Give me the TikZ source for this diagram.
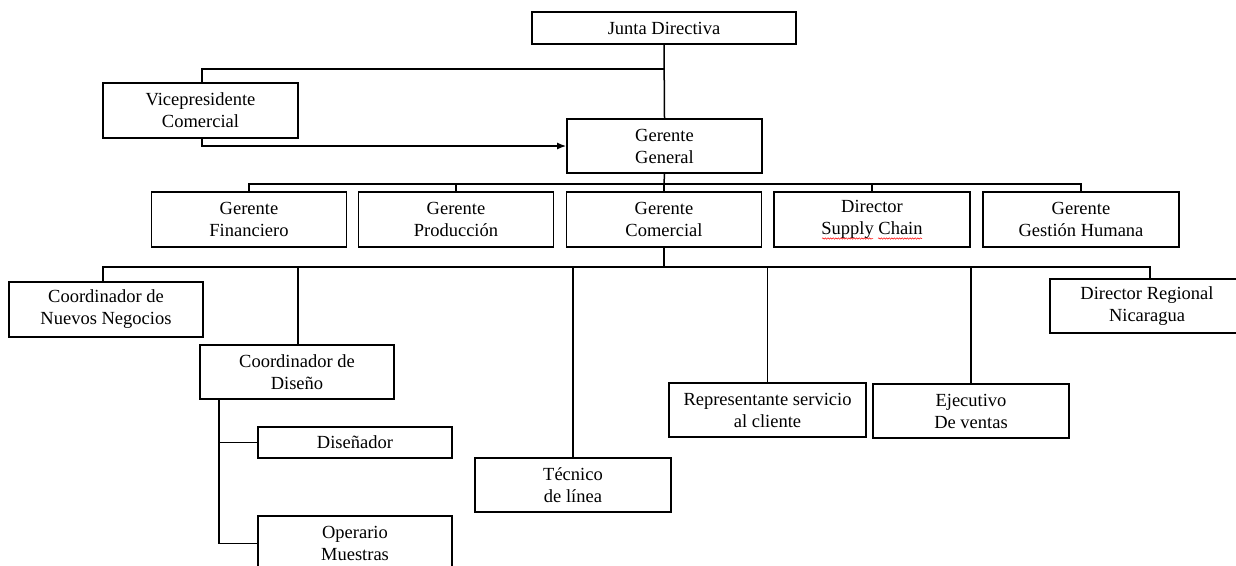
\documentclass[tikz,border=0pt]{standalone}
\usepackage{fontspec}
\setmainfont{Liberation Serif}
\usetikzlibrary{arrows.meta,decorations.pathmorphing}
\begin{document}
\begin{tikzpicture}[x=1pt,y=-1pt,
  box/.style={draw,line width=1.7pt,rectangle,inner sep=0pt,align=center,
    font=\fontsize{18.5}{22}\selectfont,minimum width=195pt,minimum height=55pt},
  conn/.style={line width=1.5pt},
  squiggle/.style={red,line width=0.5pt,decorate,decoration={snake,amplitude=0.7pt,segment length=2.6pt}}]
\useasboundingbox (0,0) rectangle (1236,565);
\clip (0,0) rectangle (1236,565);
\fill[white] (0,0) rectangle (1236,565);
% boxes
\node[box,minimum width=264pt,minimum height=32pt] (JD) at (664,28) {Junta Directiva};
\node[box] (VC) at (200.5,110.5) {Vicepresidente\\Comercial};
\node[box,minimum height=54pt] (GG) at (664.5,146) {Gerente\\General};
\node[box] (GF) at (249,219.5) {Gerente\\Financiero};
\node[box] (GP) at (456,219.5) {Gerente\\Producción};
\node[box] (GC) at (664,219.5) {Gerente\\Comercial};
\node[box,minimum width=196pt] (DS) at (872,219.5) {Director\\Supply Chain};
\node[box,minimum width=196pt] (GH) at (1081,219.5) {Gerente\\Gestión Humana};
\node[box,minimum width=194pt] (CN) at (106,309.5) {Coordinador de\\Nuevos Negocios};
\node[box,minimum width=194pt,minimum height=54pt] (CD) at (297,372) {Coordinador de\\Diseño};
\node[box,minimum width=194pt,minimum height=31pt] (DI) at (355,442.5) {Diseñador};
\node[box,minimum width=194pt] (OM) at (355,543.5) {Operario\\Muestras};
\node[box,minimum width=196pt,minimum height=54pt] (TL) at (573,485) {Técnico\\de línea};
\node[box,minimum width=197pt,minimum height=54pt] (RS) at (767.5,410) {Representante servicio\\al cliente};
\node[box,minimum width=196pt,minimum height=54pt] (EV) at (971,411) {Ejecutivo\\De ventas};
\node[box,minimum width=194pt,minimum height=54pt] (DR) at (1147,306) {Director Regional\\Nicaragua};
% bus coordinates
\coordinate (j1) at (664,69);
\coordinate (b1) at (664,184);
\coordinate (b2) at (664,267);
% top
\draw[conn] (JD.south) -- (GG.north);
\draw[conn] (j1) -| ([xshift=1.5pt]VC.north);
\draw[conn,-{Latex[length=9pt,width=7pt]}] ([xshift=1.5pt]VC.south) |- (GG.west);
% level 2
\draw[conn] (GG.south) -- (b1);
\draw[conn] (GF.north) -- (GF.north |- b1) -- (GH.north |- b1) -- (GH.north);
\draw[conn] (GP.north) -- (GP.north |- b1);
\draw[conn] (GC.north) -- (GC.north |- b1);
\draw[conn] (DS.north) -- (DS.north |- b1);
% level 3
\draw[conn] (GC.south) -- (b2);
\draw[conn] ([xshift=-3pt]CN.north) -- ([xshift=-3pt]CN.north |- b2) -- ([xshift=3pt]DR.north |- b2) -- ([xshift=3pt]DR.north);
\draw[conn] ([xshift=1pt]CD.north) -- ([xshift=1pt]CD.north |- b2);
\draw[conn] (TL.north) -- (TL.north |- b2);
\draw[conn] (RS.north) -- (RS.north |- b2);
\draw[conn] (EV.north) -- (EV.north |- b2);
% design subtree
\coordinate (d0) at ([xshift=20pt]CD.south west);
\draw[conn] (d0) |- (OM.west);
\draw[conn] (d0 |- DI.west) -- (DI.west);
% spell-check underline
\draw[squiggle] (822,238.5) -- (873,238.5);
\draw[squiggle] (878,238.5) -- (922,238.5);
\end{tikzpicture}
\end{document}
